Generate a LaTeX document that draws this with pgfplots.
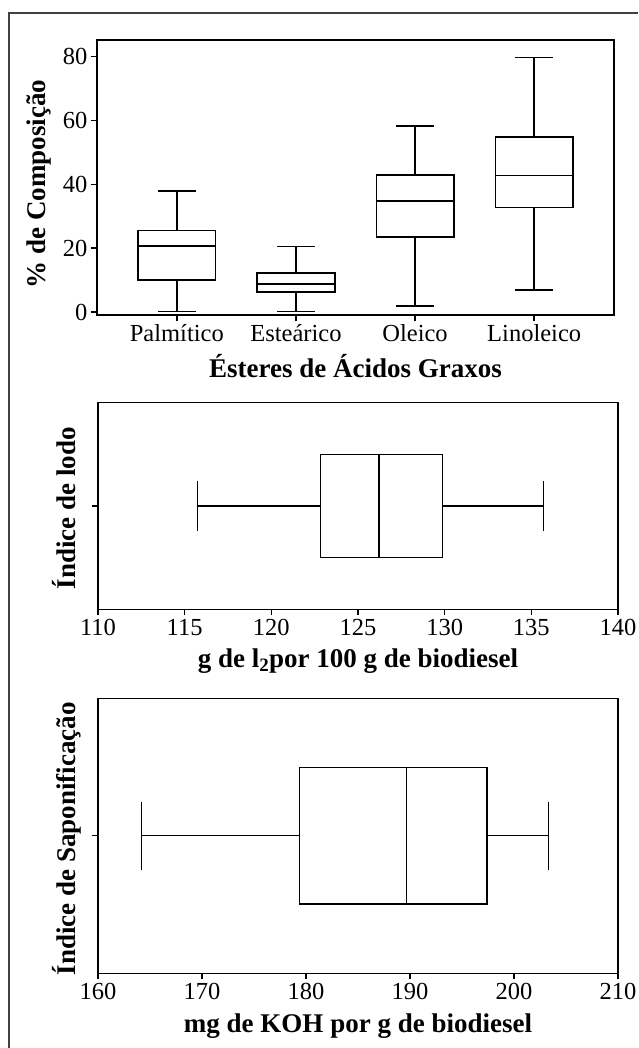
\documentclass[border=0pt]{standalone}
\usepackage{fontspec}
\setmainfont{Liberation Serif}
\usepackage{pgfplots}
\pgfplotsset{compat=1.18}
\usepgfplotslibrary{statistics}
\begin{document}
\begin{tikzpicture}
\path[use as bounding box] (0pt,0pt) rectangle (638pt,-1048pt);
\draw[line width=1.4pt, black!75] (9pt,-1048pt) -- (9pt,-13pt) -- (638pt,-13pt);
\pgfplotsset{
 every axis/.append style={
  scale only axis,
  axis line style={line width=1.2pt, black},
  every tick/.style={line width=1.2pt, black},
  tick align=outside, major tick length=6pt,
  xtick pos=left, ytick pos=left,
  tick label style={font=\fontsize{24.5}{28}\selectfont},
  label style={font=\fontsize{27}{32}\selectfont\bfseries},
  /pgf/number format/assume math mode=true,
 },
}
% Panel 1
\begin{axis}[at={(97pt,-315pt)}, anchor=south west, width=517pt, height=275pt,
 axis line style={line width=1.5pt, black},
 every tick/.style={line width=1.5pt, black},
 xmin=0.33, xmax=4.67, ymin=-0.9, ymax=85.2,
 xtick={1,2,3,4}, xticklabels={Palmítico,Esteárico,Oleico,Linoleico},
 ytick={0,20,40,60,80},
 boxplot/draw direction=y,
 boxplot/box extend=0.65, boxplot/whisker extend=0.32,
 xlabel={Ésteres de Ácidos Graxos},
 xlabel style={at={(axis description cs:0.5,-0.229)}, anchor=base},
 ylabel={\% de Composição},
 ylabel style={at={(axis description cs:-0.112,0.476)}, anchor=center},
]
\addplot[draw=black, line width=1.7pt, boxplot/draw direction=y, boxplot prepared={draw position=1, lower whisker=0.2, lower quartile=10.0, median=20.65, upper quartile=25.55, upper whisker=38.0}] coordinates {};
\addplot[draw=black, line width=1.7pt, boxplot/draw direction=y, boxplot prepared={draw position=2, lower whisker=0.2, lower quartile=6.36, median=8.87, upper quartile=12.2, upper whisker=20.5}] coordinates {};
\addplot[draw=black, line width=1.7pt, boxplot/draw direction=y, boxplot prepared={draw position=3, lower whisker=2.0, lower quartile=23.6, median=34.7, upper quartile=43.0, upper whisker=58.3}] coordinates {};
\addplot[draw=black, line width=1.7pt, boxplot/draw direction=y, boxplot prepared={draw position=4, lower whisker=7.0, lower quartile=32.75, median=42.8, upper quartile=54.8, upper whisker=79.7}] coordinates {};
\end{axis}
% Panel 2
\begin{axis}[at={(98pt,-609.3pt)}, anchor=south west, width=520pt, height=206.6pt,
 xmin=110, xmax=140, ymin=-1, ymax=1,
 xtick={110,115,...,140}, ytick={0}, yticklabels={},
 boxplot/draw direction=x,
 boxplot/box extend=0.994, boxplot/whisker extend=0.484,
 xlabel={g de l\textsubscript{2}por 100 g de biodiesel},
 xlabel style={at={(axis description cs:0.5,-0.284)}, anchor=base},
 ylabel={Índice de lodo},
 ylabel style={at={(axis description cs:-0.065,0.49)}, anchor=center},
]
\addplot[draw=black, line width=1.3pt, boxplot/draw direction=x, boxplot prepared={draw position=0, lower whisker=115.73, lower quartile=122.85, median=126.21, upper quartile=129.87, upper whisker=135.72}] coordinates {};
\end{axis}
% Panel 3
\begin{axis}[at={(98pt,-973.3pt)}, anchor=south west, width=520pt, height=275pt,
 xmin=160, xmax=210, ymin=-1, ymax=1,
 xtick={160,170,...,210}, ytick={0}, yticklabels={},
 boxplot/draw direction=x,
 boxplot/box extend=0.994, boxplot/whisker extend=0.497,
 xlabel={mg de KOH por g de biodiesel},
 xlabel style={at={(axis description cs:0.5,-0.217)}, anchor=base},
 ylabel={Índice de Saponificação},
 ylabel style={at={(axis description cs:-0.06,0.49)}, anchor=center},
]
\addplot[draw=black, line width=1.3pt, boxplot/draw direction=x, boxplot prepared={draw position=0, lower whisker=164.19, lower quartile=179.38, median=189.64, upper quartile=197.39, upper whisker=203.3}] coordinates {};
\end{axis}
\end{tikzpicture}
\end{document}
